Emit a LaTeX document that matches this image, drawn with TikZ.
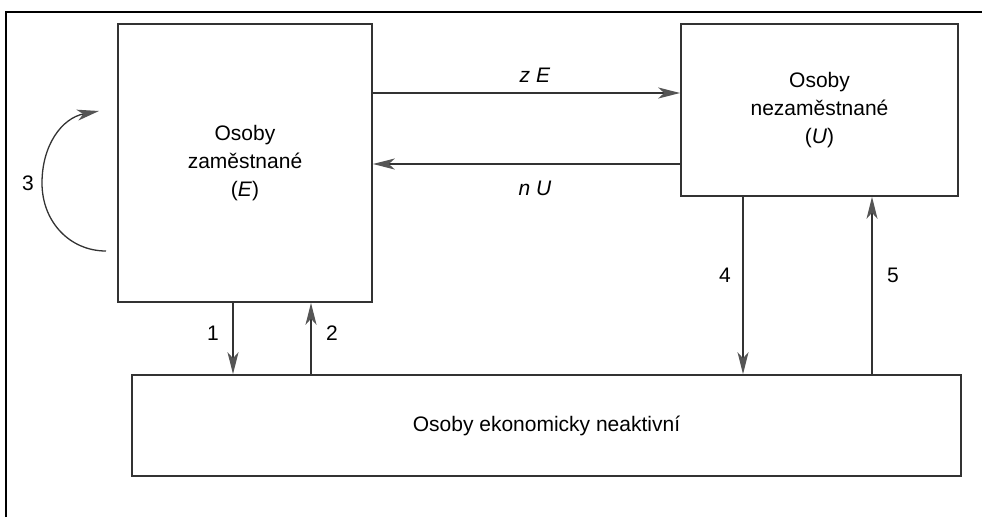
\documentclass[tikz,border=0pt]{standalone}
\usepackage{fontspec}
\setmainfont{Liberation Sans}
\usetikzlibrary{arrows.meta}
\definecolor{ln}{HTML}{333333}
\definecolor{tip}{HTML}{555555}
\tikzset{
  boxstyle/.style={draw=ln, line width=1.6pt, inner sep=0pt, align=center, font=\fontsize{21}{28}\selectfont},
  flow/.style={draw=ln, line width=1.3pt, -{Stealth[length=22pt, width=11pt, inset=6pt, fill=tip, color=tip]}},
  lbl/.style={font=\fontsize{21}{25}\selectfont, inner sep=0pt}
}
\begin{document}
\begin{tikzpicture}[x=1pt, y=-1pt]
\useasboundingbox (0,0) rectangle (982,517);
% frame (top and left)
\draw[line width=2pt, black] (6,517) -- (6,12) -- (982,12);
% boxes
\node[boxstyle, minimum width=254pt, minimum height=278pt] (E) at (245,163) {Osoby\\zaměstnané\\(\textit{E})};
\node[boxstyle, minimum width=277pt, minimum height=172pt] (U) at (819.5,110) {Osoby\\nezaměstnané\\(\textit{U})};
\node[boxstyle, minimum width=829pt, minimum height=101pt] (N) at (546.5,425.5) {Osoby ekonomicky neaktivní};
% helper coordinates
\coordinate (yz) at (0,93);
\coordinate (yn) at (0,164);
\coordinate (x1) at (233,0);
\coordinate (x2) at (311,0);
\coordinate (x4) at (743,0);
\coordinate (x5) at (872,0);
% horizontal flows
\draw[flow] (E.east |- yz) -- (U.west |- yz);
\draw[flow] (U.west |- yn) -- (E.east |- yn);
\node[lbl] (lz) at (535,75) {\textit{z E}};
\node[lbl] (ln2) at (535,188) {\textit{n U}};
% vertical flows
\draw[flow] (x1 |- E.south) -- (x1 |- N.north);
\draw[flow] (x2 |- N.north) -- (x2 |- E.south);
\draw[flow] (x4 |- U.south) -- (x4 |- N.north);
\draw[flow] (x5 |- N.north) -- (x5 |- U.south);
\node[lbl] (l1) at (213,333) {1};
\node[lbl] (l2) at (332,333) {2};
\node[lbl] (l4) at (725,275) {4};
\node[lbl] (l5) at (893,275) {5};
% self loop 3
\coordinate (s3) at (106,251);
\coordinate (e3) at (99,111);
\draw[flow] (s3) .. controls (70,251) and (42,222) .. (42,183) .. controls (42,145) and (62,118) .. (e3);
\node[lbl] (l3) at (28,183) {3};
\end{tikzpicture}
\end{document}
